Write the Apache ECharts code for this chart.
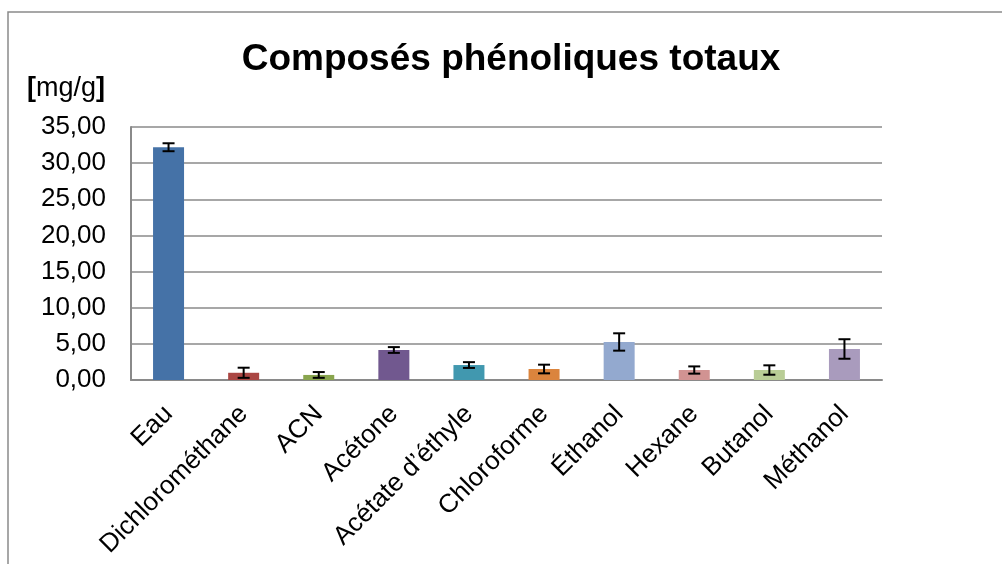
<!DOCTYPE html>
<html>
<head>
<meta charset="utf-8">
<script src="https://cdn.jsdelivr.net/npm/echarts@6/dist/echarts.min.js"></script>
<style>
  html, body { margin: 0; padding: 0; background: #fff; }
  #chart { width: 1002px; height: 564px; }
</style>
</head>
<body>
<div id="chart"></div>
<script>
// solvants testés
const categories = ["Eau", "Dichlorométhane", "ACN", "Acétone", "Acétate d’éthyle",
    "Chloroforme", "Éthanol", "Hexane", "Butanol", "Méthanol"];
// composés phénoliques totaux [mg/g]
const values = [32.2, 1.0, 0.7, 4.15, 2.07, 1.52, 5.26, 1.38, 1.38, 4.29];
// écart (barres d'erreur)
const errors = [0.55, 0.7, 0.4, 0.4, 0.4, 0.6, 1.2, 0.5, 0.65, 1.35];
const yTicks = { min: 0, max: 35, interval: 5 };

const barColors = ["#4572A7", "#AA4643", "#89A54E", "#71588F", "#4198AF",
    "#DB843D", "#93A9CF", "#D19392", "#B9CD96", "#A99BBD"];
const fontFamily = "'Liberation Sans', Arial, sans-serif";
const gridColor = "#8a8a8a";

let myChart = echarts.init(document.getElementById("chart"));

let bar_data = [];
for (let i = 0; i < values.length; i++) {
    bar_data.push({ value: values[i], itemStyle: { color: barColors[i] } });
}
let err_data = [];
for (let i = 0; i < values.length; i++) {
    err_data.push([i, values[i], errors[i]]);
}

let option = {
    backgroundColor: "#fff",
    animation: false,
    title: {
        text: "Composés phénoliques totaux",
        left: 506,
        top: 36,
        textAlign: "center",
        textStyle: { fontFamily: fontFamily, fontSize: 37, fontWeight: "bold", color: "#000" },
    },
    graphic: [{
        type: "rect",
        shape: { x: 8, y: 12, width: 1010, height: 570 },
        style: { fill: null, stroke: "#8a8a8a", lineWidth: 1.5 },
        silent: true,
    }],
    grid: { left: 131, right: 120, top: 127, bottom: 184 },
    xAxis: {
        type: "category",
        data: categories,
        axisLine: { lineStyle: { color: gridColor, width: 2 } },
        axisTick: { show: false },
        axisLabel: {
            interval: 0,
            rotate: 45,
            margin: 30,
            color: "#000",
            fontFamily: fontFamily,
            fontSize: 26,
        },
    },
    yAxis: {
        type: "value",
        min: yTicks.min,
        max: yTicks.max,
        interval: yTicks.interval,
        name: "{b|[}mg/g{b|]}",
        nameLocation: "end",
        nameGap: 38,
        nameTextStyle: {
            align: "right",
            verticalAlign: "middle",
            padding: [0, 26, 0, 0],
            color: "#000",
            fontFamily: fontFamily,
            fontSize: 27,
            rich: { b: { fontWeight: "bold", fontFamily: fontFamily, fontSize: 27, color: "#000" } },
        },
        axisLine: { show: true, lineStyle: { color: gridColor, width: 2 } },
        axisTick: { show: false },
        splitLine: { lineStyle: { color: gridColor, width: 1.5 } },
        axisLabel: {
            margin: 25,
            color: "#000",
            fontFamily: fontFamily,
            fontSize: 26,
            formatter: function (v) { return v.toFixed(2).replace(".", ","); },
        },
    },
    series: [
        {
            type: "bar",
            data: bar_data,
            barWidth: 31,
            silent: true,
        },
        {
            type: "custom",
            data: err_data,
            silent: true,
            z: 10,
            renderItem: function (params, api) {
                let idx = api.value(0), v = api.value(1), e = api.value(2);
                let hi = api.coord([idx, v + e]);
                let lo = api.coord([idx, v - e]);
                let hw = 6;
                let style = { stroke: "#000", lineWidth: 2 };
                return {
                    type: "group",
                    children: [
                        { type: "line", shape: { x1: hi[0], y1: hi[1], x2: lo[0], y2: lo[1] }, style: style },
                        { type: "line", shape: { x1: hi[0] - hw, y1: hi[1], x2: hi[0] + hw, y2: hi[1] }, style: style },
                        { type: "line", shape: { x1: lo[0] - hw, y1: lo[1], x2: lo[0] + hw, y2: lo[1] }, style: style },
                    ],
                };
            },
        },
    ],
};
myChart.setOption(option, true);
</script>
</body>
</html>
